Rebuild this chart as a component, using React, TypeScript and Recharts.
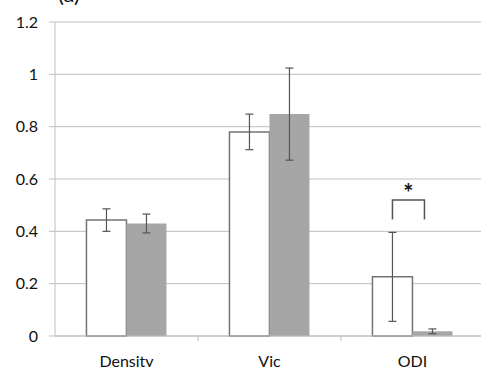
import { BarChart, Bar, XAxis, YAxis, CartesianGrid, ErrorBar, LabelList } from "recharts";

const categories = ["Density", "Vic", "ODI"];
const groupA = [0.443, 0.78, 0.226];
const groupB = [0.43, 0.848, 0.018];
const errA = [0.043, 0.068, 0.17];
const errB = [0.036, 0.176, 0.009];
const sigTop = [null, null, 0.52];
const sigBottom = 0.445;
const yTicks = [0, 0.2, 0.4, 0.6, 0.8, 1, 1.2];

const data = categories.map((name, i) => ({
  name,
  a: groupA[i],
  b: groupB[i],
  ea: errA[i],
  eb: errB[i],
  sig: sigTop[i],
}));

const GRID = "#bfbfbf";
const TEXT = "#111";
const FONT = "Lato, 'Noto Sans', sans-serif";
const CHART_W = 490;
const CHART_H = 367;
const TOP = 22;
const AXIS_H = 31;
const PLOT_H = CHART_H - TOP - AXIS_H;
const Y_MAX = 1.2;

function CategoryTick(props: any) {
  const { x, y, payload } = props;
  const half = payload && payload.offset ? payload.offset : 71.5;
  const axisY = y - 8;
  return (
    <g>
      <line x1={x + half} y1={axisY} x2={x + half} y2={axisY + 5} stroke={GRID} />
      <text x={x} y={axisY + 20} dy="0.71em" textAnchor="middle" fill={TEXT} fontSize={16} fontFamily={FONT}>
        {payload.value}
      </text>
    </g>
  );
}

function Bracket(props: any) {
  const { x, y, width, height, value } = props;
  if (value == null) return null;
  const base = y + height;
  const toY = (v: number) => base - (v / Y_MAX) * PLOT_H;
  const left = x + width / 2;
  const right = x + width * 1.3;
  const top = toY(value);
  const bottom = toY(sigBottom);
  return (
    <g>
      <path d={`M${left},${bottom} L${left},${top} L${right},${top} L${right},${bottom}`} fill="none" stroke="#555" strokeWidth={1.5} />
      <text x={(left + right) / 2} y={top + 2} textAnchor="middle" fontSize={24} fontWeight="bold" fill={TEXT} fontFamily={FONT}>
        *
      </text>
    </g>
  );
}

export default function App() {
  return (
    <div style={{ position: "absolute", left: 0, top: 0, width: 481, height: 367, overflow: "hidden", background: "#fff" }}>
      <span style={{ position: "absolute", left: 58, top: -20, fontSize: 22, fontFamily: FONT, color: TEXT }}>(a)</span>
      <BarChart
        width={CHART_W}
        height={CHART_H}
        data={data}
        margin={{ top: TOP, right: 6, bottom: 0, left: 0 }}
        barCategoryGap="22%"
        barGap={0}
      >
        <CartesianGrid stroke={GRID} vertical={false} />
        <XAxis
          dataKey="name"
          height={AXIS_H}
          axisLine={{ stroke: GRID }}
          tickLine={false}
          tick={<CategoryTick />}
          interval={0}
        />
        <YAxis
          width={55}
          domain={[0, Y_MAX]}
          ticks={yTicks}
          axisLine={{ stroke: GRID }}
          tickLine={{ stroke: GRID }}
          tickSize={6}
          tickMargin={11}
          tick={{ fill: TEXT, fontSize: 16, fontFamily: FONT }}
          tickFormatter={(v: number) => String(v)}
        />
        <Bar dataKey="a" fill="#fff" stroke="#737373" strokeWidth={1.5} isAnimationActive={false}>
          <ErrorBar dataKey="ea" width={4} stroke="#555" strokeWidth={1.2} />
          <LabelList dataKey="sig" content={<Bracket />} />
        </Bar>
        <Bar dataKey="b" fill="#a6a6a6" isAnimationActive={false}>
          <ErrorBar dataKey="eb" width={4} stroke="#555" strokeWidth={1.2} />
        </Bar>
      </BarChart>
    </div>
  );
}
